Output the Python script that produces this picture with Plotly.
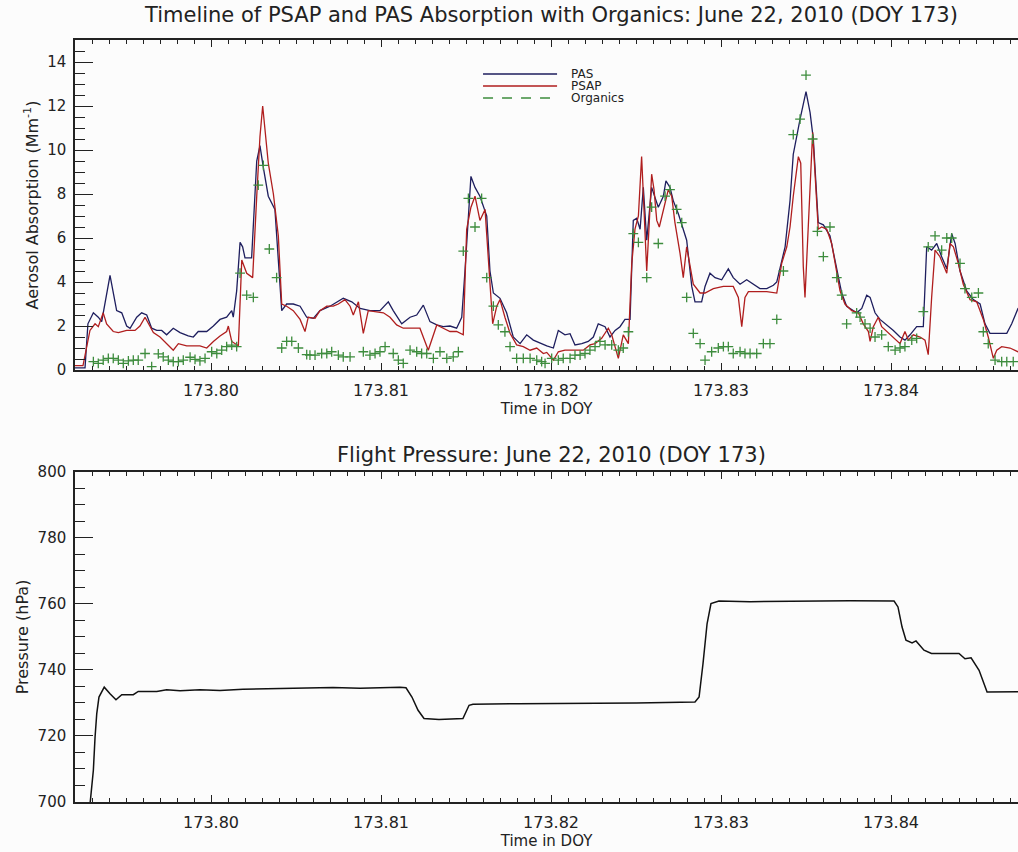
import plotly.graph_objects as go

# ---- PAS absorption (Mm^-1) ----
pas_t = [173.79200, 173.79259, 173.79276, 173.79308, 173.79337, 173.79357, 173.79406, 173.79445,
         173.79475, 173.79504, 173.79524, 173.79563, 173.79592, 173.79622, 173.79651, 173.79681,
         173.79710, 173.79739, 173.79778, 173.79818, 173.79866, 173.79896, 173.79925, 173.79975,
         173.80014, 173.80053, 173.80092, 173.80122, 173.80131, 173.80151, 173.80171, 173.80186,
         173.80200, 173.80239, 173.80269, 173.80288, 173.80308, 173.80337, 173.80376, 173.80396,
         173.80416, 173.80445, 173.80484, 173.80524, 173.80563, 173.80602, 173.80641, 173.80700,
         173.80778, 173.80828, 173.80877, 173.80935, 173.80994, 173.81043, 173.81072, 173.81122,
         173.81171, 173.81210, 173.81249, 173.81288, 173.81328, 173.81366, 173.81406, 173.81445,
         173.81475, 173.81494, 173.81514, 173.81529, 173.81553, 173.81582, 173.81622, 173.81641,
         173.81661, 173.81700, 173.81739, 173.81778, 173.81818, 173.81857, 173.81896, 173.81955,
         173.81975, 173.82014, 173.82043, 173.82082, 173.82112, 173.82141, 173.82181, 173.82219,
         173.82249, 173.82278, 173.82318, 173.82347, 173.82377, 173.82406, 173.82435, 173.82465,
         173.82484, 173.82504, 173.82524, 173.82543, 173.82563, 173.82592, 173.82631, 173.82661,
         173.82676, 173.82700, 173.82719, 173.82749, 173.82778, 173.82798, 173.82828, 173.82847,
         173.82886, 173.82906, 173.82935, 173.82965, 173.83004, 173.83043, 173.83072, 173.83112,
         173.83151, 173.83190, 173.83229, 173.83269, 173.83308, 173.83328, 173.83347, 173.83377,
         173.83406, 173.83425, 173.83465, 173.83500, 173.83524, 173.83543, 173.83572, 173.83602,
         173.83641, 173.83681, 173.83710, 173.83739, 173.83798, 173.83828, 173.83857, 173.83877,
         173.83906, 173.83935, 173.83975, 173.84014, 173.84053, 173.84082, 173.84112, 173.84151,
         173.84190, 173.84210, 173.84239, 173.84269, 173.84298, 173.84328, 173.84357, 173.84377,
         173.84406, 173.84445, 173.84484, 173.84524, 173.84553, 173.84582, 173.84641, 173.84681,
         173.84710, 173.84747, 173.84788]
pas = [0.1, 0.1, 2.1, 2.6, 2.4, 2.2, 4.3, 2.7,
       2.6, 2.0, 1.9, 2.4, 2.6, 2.5, 1.9, 1.8,
       1.8, 1.6, 1.9, 1.7, 1.55, 1.5, 1.75, 1.75,
       2.0, 2.3, 2.4, 2.7, 2.4, 3.6, 5.8, 5.6,
       5.1, 5.1, 9.5, 10.2, 9.2, 7.9, 7.3, 4.8,
       2.7, 3.0, 3.0, 2.9, 2.4, 2.35, 2.7, 2.9,
       3.26, 3.1, 2.8, 2.7, 2.7, 3.1, 2.7, 2.1,
       2.4, 2.5, 2.95, 2.2, 2.05, 1.97, 2.0, 1.9,
       2.4, 4.5, 7.3, 8.8, 8.3, 7.9, 7.0, 4.5,
       3.5, 3.26, 2.6, 1.5, 1.2, 1.6, 1.36, 1.14,
       1.1, 1.0, 1.8, 1.6, 1.65, 1.14, 1.2, 1.3,
       1.5, 2.1, 1.97, 1.5, 1.8, 1.97, 2.3, 2.3,
       6.8, 6.9, 6.4, 8.3, 5.9, 8.3, 7.4, 7.9,
       8.6, 8.3, 7.7, 7.1, 6.4, 5.9, 3.8, 3.1,
       3.1, 3.8, 4.4, 4.2, 4.1, 4.6, 4.2, 3.9,
       4.1, 3.9, 3.7, 3.7, 3.85, 4.0, 4.6, 5.6,
       7.7, 9.8, 11.4, 12.65, 11.7, 10.5, 6.7, 6.6,
       6.1, 4.5, 3.5, 2.9, 2.6, 2.8, 3.4, 3.3,
       2.6, 2.3, 2.05, 1.8, 1.5, 1.36, 1.6, 1.97,
       1.97, 5.6, 5.45, 5.75, 5.15, 4.6, 6.2, 5.75,
       4.5, 3.6, 3.2, 3.0, 2.1, 1.67, 1.67, 1.67,
       2.1, 2.8, 3.0]

# ---- PSAP absorption (Mm^-1) ----
psap_t = [173.79200, 173.79247, 173.79288, 173.79318, 173.79337, 173.79366, 173.79386, 173.79425,
          173.79455, 173.79484, 173.79504, 173.79553, 173.79582, 173.79612, 173.79631, 173.79661,
          173.79700, 173.79739, 173.79778, 173.79808, 173.79857, 173.79896, 173.79935, 173.79975,
          173.80014, 173.80053, 173.80092, 173.80102, 173.80122, 173.80161, 173.80181, 173.80210,
          173.80245, 173.80269, 173.80288, 173.80304, 173.80318, 173.80337, 173.80367, 173.80396,
          173.80416, 173.80445, 173.80484, 173.80524, 173.80553, 173.80572, 173.80612, 173.80641,
          173.80681, 173.80719, 173.80749, 173.80788, 173.80818, 173.80837, 173.80867, 173.80896,
          173.80925, 173.80975, 173.81014, 173.81053, 173.81092, 173.81131, 173.81190, 173.81229,
          173.81278, 173.81298, 173.81328, 173.81366, 173.81406, 173.81445, 173.81484, 173.81504,
          173.81529, 173.81553, 173.81582, 173.81612, 173.81631, 173.81657, 173.81681, 173.81700,
          173.81729, 173.81759, 173.81798, 173.81837, 173.81877, 173.81916, 173.81955, 173.81975,
          173.82014, 173.82043, 173.82082, 173.82131, 173.82190, 173.82229, 173.82259, 173.82298,
          173.82337, 173.82357, 173.82377, 173.82396, 173.82425, 173.82455, 173.82475, 173.82494,
          173.82514, 173.82533, 173.82547, 173.82563, 173.82578, 173.82592, 173.82606, 173.82622,
          173.82637, 173.82661, 173.82690, 173.82710, 173.82729, 173.82759, 173.82778, 173.82798,
          173.82837, 173.82877, 173.82906, 173.82955, 173.83014, 173.83072, 173.83102, 173.83122,
          173.83141, 173.83161, 173.83210, 173.83269, 173.83328, 173.83357, 173.83387, 173.83406,
          173.83425, 173.83455, 173.83469, 173.83484, 173.83494, 173.83504, 173.83524, 173.83539,
          173.83553, 173.83572, 173.83592, 173.83622, 173.83651, 173.83681, 173.83700, 173.83729,
          173.83769, 173.83808, 173.83837, 173.83867, 173.83877, 173.83896, 173.83925, 173.83945,
          173.83975, 173.84014, 173.84053, 173.84082, 173.84102, 173.84131, 173.84171, 173.84200,
          173.84219, 173.84239, 173.84259, 173.84288, 173.84328, 173.84347, 173.84367, 173.84396,
          173.84425, 173.84465, 173.84504, 173.84543, 173.84572, 173.84602, 173.84622, 173.84651,
          173.84700, 173.84747, 173.84788]
psap = [0.2, 0.2, 1.8, 2.1, 1.97, 2.6, 2.1, 1.75,
        1.7, 1.75, 1.8, 1.8, 2.0, 2.4, 2.1, 1.7,
        1.5, 1.2, 0.9, 1.2, 1.1, 1.1, 1.1, 1.0,
        1.3, 1.55, 1.75, 2.0, 1.3, 1.1, 5.0, 4.4,
        4.2, 7.9, 10.6, 12.0, 10.9, 9.4, 8.0, 6.1,
        3.0, 2.9, 2.7, 2.3, 1.75, 2.4, 2.35, 2.7,
        2.9, 2.9, 3.0, 3.2, 2.9, 2.5, 3.1, 1.67,
        2.7, 2.65, 2.6, 2.4, 2.05, 1.9, 1.9, 1.9,
        0.9, 1.4, 2.05, 1.9, 1.75, 1.75, 1.6, 6.4,
        7.4, 7.9, 6.8, 7.3, 5.15, 2.1, 2.9, 3.2,
        2.4, 1.67, 1.14, 1.06, 0.9, 1.0, 0.75, 0.8,
        0.45, 0.83, 0.9, 0.9, 0.9, 1.14, 1.2, 1.44,
        1.9, 1.6, 1.06, 0.53, 1.6, 1.2, 4.85, 6.4,
        7.0, 9.7, 7.3, 4.5, 6.7, 8.9, 8.2, 6.8,
        6.5, 7.3, 8.2, 7.9, 6.7, 5.3, 4.2, 5.6,
        3.9, 3.5, 3.5, 3.7, 3.8, 3.8, 3.3, 1.97,
        3.3, 3.56, 3.56, 3.56, 3.5, 4.85, 5.6, 6.5,
        7.9, 9.7, 9.4, 4.7, 3.3, 4.8, 8.3, 10.8,
        8.9, 6.4, 6.5, 6.4, 5.75, 4.5, 3.6, 3.0,
        2.7, 2.6, 2.1, 1.75, 1.3, 1.97, 2.4, 1.97,
        1.75, 1.44, 1.2, 1.75, 1.36, 1.6, 1.5, 1.36,
        0.7, 3.3, 5.45, 5.15, 4.4, 5.75, 5.6, 4.85,
        3.9, 3.2, 3.1, 2.3, 1.5, 0.53, 0.9, 1.06,
        1.0, 0.83, 0.8]

# ---- Organics (scaled, same axis) ----
org_t = [173.79308, 173.79337, 173.79366, 173.79396, 173.79425, 173.79455, 173.79484, 173.79514,
         173.79543, 173.79572, 173.79612, 173.79651, 173.79690, 173.79719, 173.79749, 173.79778,
         173.79808, 173.79837, 173.79877, 173.79906, 173.79935, 173.79965, 173.80004, 173.80034,
         173.80063, 173.80092, 173.80122, 173.80151, 173.80171, 173.80210, 173.80249, 173.80278,
         173.80308, 173.80343, 173.80386, 173.80416, 173.80445, 173.80475, 173.80514, 173.80563,
         173.80582, 173.80612, 173.80651, 173.80681, 173.80710, 173.80749, 173.80778, 173.80818,
         173.80896, 173.80935, 173.80965, 173.80994, 173.81024, 173.81072, 173.81102, 173.81131,
         173.81171, 173.81210, 173.81239, 173.81269, 173.81308, 173.81347, 173.81387, 173.81425,
         173.81455, 173.81484, 173.81514, 173.81553, 173.81592, 173.81622, 173.81661, 173.81690,
         173.81729, 173.81759, 173.81798, 173.81837, 173.81877, 173.81916, 173.81945, 173.81965,
         173.82004, 173.82043, 173.82072, 173.82112, 173.82141, 173.82171, 173.82200, 173.82229,
         173.82259, 173.82288, 173.82318, 173.82357, 173.82396, 173.82425, 173.82455, 173.82484,
         173.82514, 173.82563, 173.82592, 173.82631, 173.82671, 173.82700, 173.82739, 173.82769,
         173.82798, 173.82837, 173.82877, 173.82906, 173.82945, 173.82984, 173.83014, 173.83043,
         173.83072, 173.83112, 173.83141, 173.83171, 173.83210, 173.83249, 173.83288, 173.83328,
         173.83367, 173.83425, 173.83465, 173.83500, 173.83539, 173.83567, 173.83602, 173.83641,
         173.83681, 173.83710, 173.83739, 173.83798, 173.83818, 173.83847, 173.83877, 173.83906,
         173.83945, 173.83984, 173.84024, 173.84053, 173.84082, 173.84122, 173.84151, 173.84190,
         173.84219, 173.84259, 173.84298, 173.84328, 173.84357, 173.84406, 173.84435, 173.84475,
         173.84514, 173.84543, 173.84572, 173.84612, 173.84651, 173.84681, 173.84719]
org = [0.38, 0.3, 0.45, 0.53, 0.53, 0.45, 0.3, 0.42,
       0.45, 0.45, 0.75, 0.15, 0.73, 0.6, 0.45, 0.38,
       0.38, 0.45, 0.58, 0.48, 0.42, 0.53, 0.83, 0.75,
       0.9, 1.06, 1.13, 1.06, 4.4, 3.4, 3.3, 8.4,
       9.3, 5.5, 4.2, 1.0, 1.3, 1.3, 1.0, 0.7,
       0.68, 0.68, 0.75, 0.75, 0.83, 0.68, 0.6, 0.6,
       0.83, 0.68, 0.75, 0.83, 1.06, 0.75, 0.45, 0.3,
       0.9, 0.83, 0.75, 0.75, 0.53, 0.83, 0.53, 0.6,
       0.83, 5.4, 7.8, 6.5, 7.8, 4.2, 2.9, 2.05,
       1.74, 1.06, 0.53, 0.53, 0.53, 0.45, 0.38, 0.3,
       0.53, 0.45, 0.53, 0.53, 0.68, 0.68, 0.75, 0.9,
       1.06, 1.3, 1.14, 1.14, 0.9, 1.0, 1.74, 6.2,
       5.8, 4.2, 7.4, 5.75, 7.9, 8.2, 7.3, 6.7,
       3.3, 1.67, 1.2, 0.45, 0.83, 1.0, 1.06, 1.06,
       0.75, 0.83, 0.75, 0.75, 0.75, 1.2, 1.2, 2.3,
       4.5, 10.7, 11.4, 13.4, 10.5, 6.3, 5.15, 6.5,
       4.2, 3.4, 2.1, 2.6, 2.4, 2.1, 1.9, 1.5,
       1.6, 1.06, 0.9, 1.0, 1.06, 1.36, 1.44, 2.65,
       5.6, 6.1, 5.45, 6.0, 6.0, 4.85, 3.7, 3.3,
       3.5, 1.74, 1.2, 0.45, 0.38, 0.38, 0.38]

# ---- Flight pressure (hPa) ----
pres_t = [173.79282, 173.79308, 173.79318, 173.79328, 173.79341, 173.79357, 173.79372, 173.79406,
          173.79441, 173.79475, 173.79543, 173.79572, 173.79681, 173.79739, 173.79818, 173.79935,
          173.80053, 173.80188, 173.80347, 173.80524, 173.80718, 173.80877, 173.81112, 173.81147,
          173.81182, 173.81218, 173.81253, 173.81341, 173.81482, 173.81518, 173.81541, 173.81806,
          173.82153, 173.82500, 173.82847, 173.82871, 173.82894, 173.82918, 173.82941, 173.82988,
          173.83171, 173.83429, 173.83759, 173.84018, 173.84041, 173.84065, 173.84088, 173.84124,
          173.84147, 173.84194, 173.84238, 173.84400, 173.84435, 173.84471, 173.84518, 173.84565,
          173.84629, 173.84741, 173.84788]
pres = [696.0, 709.6, 719.7, 726.8, 731.8, 733.3, 734.8, 732.8,
        731.0, 732.5, 732.5, 733.5, 733.5, 734.0, 733.7, 734.0,
        733.8, 734.2, 734.3, 734.5, 734.7, 734.5, 734.8, 734.6,
        731.8, 727.8, 725.3, 725.0, 725.3, 729.3, 729.6, 729.8,
        729.8, 730.0, 730.3, 731.8, 741.9, 754.0, 760.1, 760.9,
        760.7, 760.9, 761.0, 760.9, 759.1, 753.0, 749.0, 748.2,
        748.8, 746.0, 745.0, 745.0, 743.4, 743.7, 739.9, 733.3,
        733.3, 733.5, 733.4]

# axis limits
X_RANGE = [173.792, 173.84747]
ABS_RANGE = [0, 15]
PRES_RANGE = [700, 800]

INK = "#222222"
FONT = "DejaVu Sans"
PAS_COLOR = "#1e1e5e"
PSAP_COLOR = "#b01e1e"
ORG_COLOR = "#3d8c3d"

fig = go.Figure()
fig.add_trace(go.Scatter(x=pas_t, y=pas, mode="lines", name="PAS",
                         line=dict(color=PAS_COLOR, width=1.3), xaxis="x", yaxis="y"))
fig.add_trace(go.Scatter(x=psap_t, y=psap, mode="lines", name="PSAP",
                         line=dict(color=PSAP_COLOR, width=1.3), xaxis="x", yaxis="y"))
fig.add_trace(go.Scatter(x=org_t, y=org, mode="markers", name="Organics",
                         marker=dict(symbol="cross-thin", size=7, color=ORG_COLOR,
                                     line=dict(color=ORG_COLOR, width=1.3)),
                         xaxis="x", yaxis="y"))
fig.add_trace(go.Scatter(x=pres_t, y=pres, mode="lines", name="Pressure",
                         line=dict(color="#111111", width=1.5), xaxis="x2", yaxis="y2"))


def x_axis(anchor):
    return dict(anchor=anchor, domain=[0, 1], range=X_RANGE, tick0=173.80, dtick=0.01,
                tickformat=".2f", ticks="inside", ticklen=7, tickwidth=1, tickcolor=INK,
                minor=dict(dtick=0.001, ticks="inside", ticklen=4, tickwidth=1, tickcolor=INK),
                showline=True, linecolor=INK, linewidth=1.5, mirror="ticks",
                showgrid=False, zeroline=False,
                tickfont=dict(family=FONT, size=16, color=INK), ticklabelstandoff=5,
                title=dict(text="Time in DOY", font=dict(family=FONT, size=15, color=INK),
                           standoff=1))


def y_axis(anchor, domain, rng, dtick, mdtick, title):
    return dict(anchor=anchor, domain=domain, range=rng, dtick=dtick, ticks="inside",
                ticklen=18, tickwidth=1, tickcolor=INK,
                minor=dict(dtick=mdtick, ticks="inside", ticklen=10, tickwidth=1, tickcolor=INK),
                showline=True, linecolor=INK, linewidth=1.5, showgrid=False, zeroline=False,
                tickfont=dict(family=FONT, size=15, color=INK), ticklabelstandoff=4,
                title=dict(text=title, font=dict(family=FONT, size=16, color=INK), standoff=5))


def right_ticks(over, anchor, rng, dtick, mdtick):
    return dict(overlaying=over, side="right", anchor=anchor, range=rng, dtick=dtick,
                ticks="inside", ticklen=11, tickwidth=1, tickcolor=INK,
                minor=dict(dtick=mdtick, ticks="inside", ticklen=5, tickwidth=1, tickcolor=INK),
                showline=False, showgrid=False, zeroline=False, showticklabels=False)


TOP = [0.5669, 1.0]
BOTTOM = [0.0, 0.4331]

fig.update_layout(
    width=1018, height=852,
    margin=dict(l=75, r=0, t=40, b=50),
    paper_bgcolor="#fcfcfc", plot_bgcolor="#fcfcfc",
    showlegend=False,
    font=dict(family=FONT, color=INK),
    xaxis=x_axis("y"),
    yaxis=y_axis("x", TOP, ABS_RANGE, 2, 0.5, "Aerosol Absorption (Mm<sup>-1</sup>)"),
    yaxis3=right_ticks("y", "x", ABS_RANGE, 2, 0.5),
    xaxis2=x_axis("y2"),
    yaxis2=y_axis("x2", BOTTOM, PRES_RANGE, 20, 5, "Pressure (hPa)"),
    yaxis4=right_ticks("y2", "x2", PRES_RANGE, 20, 5),
)

# panel titles
fig.add_annotation(text="Timeline of PSAP and PAS Absorption with Organics: June 22, 2010 (DOY 173)",
                   xref="paper", yref="paper", x=0.5048, y=1.0328, showarrow=False,
                   xanchor="center", yanchor="middle",
                   font=dict(family=FONT, size=21, color=INK))
fig.add_annotation(text="Flight Pressure: June 22, 2010 (DOY 173)",
                   xref="paper", yref="paper", x=0.5048, y=0.4554, showarrow=False,
                   xanchor="center", yanchor="middle",
                   font=dict(family=FONT, size=21, color=INK))

# key inside the absorption panel
legend_rows = [("PAS", PAS_COLOR, "solid", 0.9554),
               ("PSAP", PSAP_COLOR, "solid", 0.9396),
               ("Organics", ORG_COLOR, "10px,9px", 0.9239)]
for label, color, dash, ypos in legend_rows:
    fig.add_shape(type="line", xref="paper", yref="paper", x0=0.4327, x1=0.5112,
                  y0=ypos, y1=ypos, line=dict(color=color, width=1.4, dash=dash))
    fig.add_annotation(text=label, xref="paper", yref="paper", x=0.5249, y=ypos,
                       showarrow=False, xanchor="left", yanchor="middle", borderpad=0,
                       font=dict(family=FONT, size=12, color=INK))

fig.write_html("out.html")
